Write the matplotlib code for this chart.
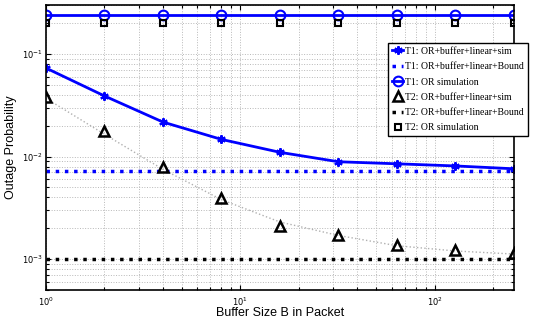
import matplotlib
matplotlib.use('Agg')
import matplotlib.pyplot as plt
from matplotlib.ticker import LogLocator, NullFormatter

# Données
buffer_B = [1, 2, 4, 8, 16, 32, 64, 128, 256]
t1_sim = [0.073, 0.039, 0.0217, 0.0147, 0.011, 0.0089, 0.0085, 0.0081, 0.0076]
t1_bound = [0.0072] * len(buffer_B)
t1_or_sim = [0.24] * len(buffer_B)
t2_sim = [0.038, 0.0178, 0.008, 0.0039, 0.0021, 0.0017, 0.00138, 0.00123, 0.00114]
t2_curve = [0.037, 0.0165, 0.0075, 0.0038, 0.0023, 0.0017, 0.00135, 0.0012, 0.00112]
t2_bound = [0.001] * len(buffer_B)
t2_or_sim = [0.2] * len(buffer_B)

plt.rcParams['mathtext.fontset'] = 'stix'

fig = plt.figure(figsize=(5.39, 3.19), dpi=100)
ax = fig.add_axes([0.0853, 0.091, 0.8683, 0.893])

ax.plot(buffer_B, t2_curve, ':', color='#b0b0b0', lw=1.0)
ax.plot(buffer_B, t1_sim, '-', color='blue', lw=2, marker=(6, 2, 0), ms=6,
        mew=1.5, label='T1: OR+buffer+linear+sim')
ax.plot(buffer_B, t1_bound, ':', color='blue', lw=2.5,
        label='T1: OR+buffer+linear+Bound')
ax.plot(buffer_B, t1_or_sim, '-', color='blue', lw=2, marker='o', ms=7,
        mfc='none', mew=1.5, label='T1: OR simulation')
ax.plot(buffer_B, t2_sim, linestyle='none', color='black', marker='^', ms=7,
        mfc='none', mew=1.8, label='T2: OR+buffer+linear+sim')
ax.plot(buffer_B, t2_bound, ':', color='black', lw=2.5,
        label='T2: OR+buffer+linear+Bound')
ax.plot(buffer_B, t2_or_sim, linestyle='none', color='black', marker='s', ms=5,
        mfc='none', mew=1.5, label='T2: OR simulation')

ax.set_xscale('log')
ax.set_yscale('log')
ax.set_xlim(1, 256)
ax.set_ylim(5e-4, 0.3)

ax.yaxis.set_major_locator(LogLocator(base=10, numticks=10))
ax.yaxis.set_minor_locator(LogLocator(base=10, subs=range(2, 10), numticks=20))
ax.yaxis.set_minor_formatter(NullFormatter())
ax.xaxis.set_minor_formatter(NullFormatter())

ax.grid(True, which='both', linestyle=':', color='#b8b8b8', lw=0.7)
ax.tick_params(which='both', direction='in', top=True, right=True,
               labelsize=6, width=0.8, pad=2)
ax.tick_params(axis='x', which='major', pad=4)
for s in ax.spines.values():
    s.set_linewidth(1.2)

ax.set_xlabel('Buffer Size B in Packet', fontsize=9, labelpad=-1,
              family='Liberation Sans')
ax.set_ylabel('Outage Probability', fontsize=9, labelpad=4,
              family='Liberation Sans')

leg = ax.legend(loc='upper right', bbox_to_anchor=(528 / 539, 1 - 43 / 319),
                bbox_transform=fig.transFigure,
                prop={'family': 'Liberation Serif', 'size': 7},
                fancybox=False, framealpha=1, edgecolor='black',
                handlelength=1.2, handletextpad=0.2, labelspacing=0.65,
                borderpad=0.4, borderaxespad=0)
leg.get_frame().set_linewidth(1.0)

fig.savefig('out.png', dpi=100)
